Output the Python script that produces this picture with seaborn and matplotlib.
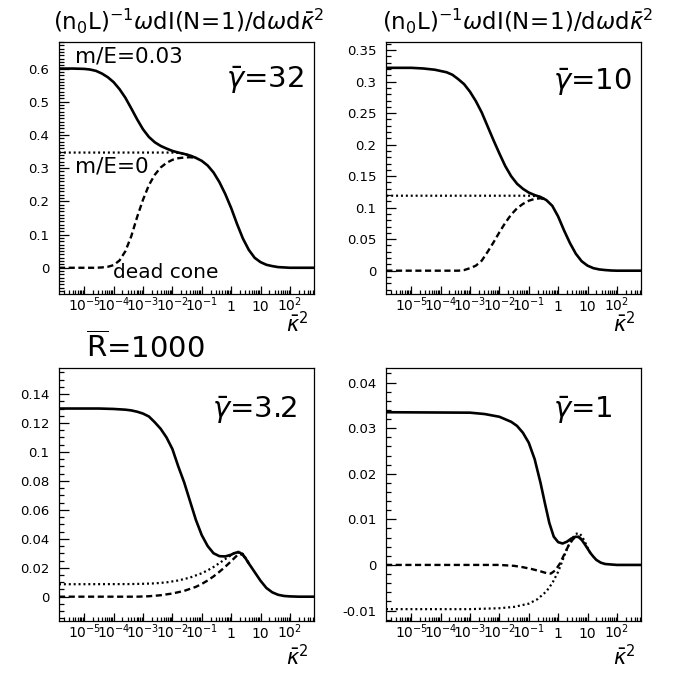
import numpy as np
import pandas as pd
import matplotlib
matplotlib.use("Agg")
import matplotlib.pyplot as plt
import matplotlib.ticker as mticker
import seaborn as sns

# ---------------- data (log10 of kappa^2, values) ----------------
# Panel gamma=32
P1_SOLID_LK = [-5.86, -5.4, -5.0, -4.8, -4.6, -4.4, -4.2, -4.0, -3.8, -3.6, -3.4, -3.2, -3.0, -2.8, -2.6, -2.4,
               -2.2, -2.0, -1.8, -1.6, -1.4, -1.2, -1.0, -0.8, -0.6, -0.4, -0.2, 0.0, 0.2, 0.4, 0.6, 0.8, 1.0,
               1.2, 1.4, 1.6, 1.8, 2.0, 2.82]
P1_SOLID_V = [0.600, 0.600, 0.599, 0.597, 0.593, 0.585, 0.574, 0.559, 0.538, 0.512, 0.480, 0.447, 0.417, 0.394,
              0.378, 0.367, 0.359, 0.352, 0.347, 0.343, 0.338, 0.331, 0.322, 0.308, 0.287, 0.258, 0.222, 0.180,
              0.132, 0.088, 0.054, 0.030, 0.017, 0.009, 0.005, 0.002, 0.001, 0.0, 0.0]
P1_DOT_LK = [-5.86, -2.0, -1.8, -1.6, -1.4, -1.2]
P1_DOT_V = [0.347, 0.347, 0.346, 0.343, 0.338, 0.331]
P1_DASH_LK = [-5.86, -4.6, -4.4, -4.2, -4.0, -3.8, -3.6, -3.4, -3.2, -3.0, -2.8, -2.6, -2.4, -2.2, -2.0, -1.8,
              -1.6, -1.4, -1.2]
P1_DASH_V = [0.0, 0.0, 0.001, 0.003, 0.008, 0.022, 0.050, 0.095, 0.153, 0.205, 0.249, 0.280, 0.302, 0.316,
             0.325, 0.330, 0.332, 0.333, 0.331]

# Panel gamma=10
P2_SOLID_LK = [-5.85, -5.0, -4.6, -4.4, -4.2, -4.0, -3.8, -3.6, -3.4, -3.2, -3.0, -2.8, -2.6, -2.4, -2.2, -2.0,
               -1.8, -1.6, -1.4, -1.2, -1.0, -0.8, -0.6, -0.4, -0.2, 0.0, 0.2, 0.4, 0.6, 0.8, 1.0, 1.2, 1.4,
               1.6, 1.8, 2.0, 2.82]
P2_SOLID_V = [0.322, 0.322, 0.321, 0.320, 0.319, 0.317, 0.315, 0.311, 0.304, 0.296, 0.284, 0.269, 0.251, 0.229,
              0.207, 0.186, 0.166, 0.150, 0.138, 0.130, 0.124, 0.120, 0.117, 0.112, 0.103, 0.086, 0.064, 0.044,
              0.027, 0.015, 0.008, 0.004, 0.002, 0.001, 0.0003, 0.0, 0.0]
P2_DOT_LK = [-5.85, -1.0, -0.8, -0.6, -0.4]
P2_DOT_V = [0.119, 0.119, 0.1185, 0.117, 0.112]
P2_DASH_LK = [-5.85, -3.4, -3.2, -3.0, -2.8, -2.6, -2.4, -2.2, -2.0, -1.8, -1.6, -1.4, -1.2, -1.0, -0.8, -0.6, -0.4]
P2_DASH_V = [0.0, 0.0, 0.001, 0.004, 0.008, 0.016, 0.030, 0.045, 0.061, 0.076, 0.089, 0.099, 0.106, 0.111,
             0.114, 0.115, 0.112]

# Panel gamma=3.2
P3_SOLID_LK = [-5.86, -4.5, -4.0, -3.6, -3.4, -3.2, -3.0, -2.8, -2.6, -2.4, -2.2, -2.0, -1.8, -1.6, -1.4, -1.2,
               -1.0, -0.8, -0.6, -0.4, -0.2, 0.0, 0.1, 0.2, 0.3, 0.4, 0.5, 0.6, 0.8, 1.0, 1.2, 1.4, 1.6, 1.8,
               2.0, 2.3, 2.82]
P3_SOLID_V = [0.130, 0.130, 0.1297, 0.1292, 0.1287, 0.1278, 0.1265, 0.1245, 0.1205, 0.1160, 0.1100, 0.1020,
              0.0900, 0.0790, 0.0660, 0.0530, 0.0425, 0.0350, 0.0300, 0.0280, 0.0278, 0.0290, 0.0300, 0.0306,
              0.0304, 0.0290, 0.0262, 0.0230, 0.0170, 0.0110, 0.0060, 0.0030, 0.0013, 0.0005, 0.0002, 0.0, 0.0]
P3_DOT_LK = [-5.86, -3.5, -3.0, -2.6, -2.2, -1.8, -1.4, -1.0, -0.8, -0.6, -0.4, -0.2, 0.0, 0.1, 0.2, 0.3, 0.4,
             0.5, 0.6]
P3_DOT_V = [0.0086, 0.0087, 0.0089, 0.0092, 0.0099, 0.0112, 0.0132, 0.0162, 0.0182, 0.0205, 0.0232, 0.0260,
            0.0287, 0.0300, 0.0310, 0.0310, 0.0295, 0.0265, 0.0232]
P3_DASH_LK = [-5.86, -3.2, -2.8, -2.4, -2.0, -1.6, -1.2, -1.0, -0.8, -0.6, -0.4, -0.2, 0.0, 0.1, 0.2, 0.3, 0.4,
              0.5, 0.6]
P3_DASH_V = [0.0, 0.0, 0.0003, 0.0010, 0.0022, 0.0040, 0.0068, 0.0088, 0.0112, 0.0140, 0.0172, 0.0207, 0.0245,
             0.0265, 0.0285, 0.0295, 0.0288, 0.0262, 0.0230]

# Panel gamma=1
P4_SOLID_LK = [-5.86, -3.0, -2.5, -2.0, -1.6, -1.4, -1.2, -1.0, -0.8, -0.6, -0.45, -0.3, -0.15, 0.0, 0.15, 0.3,
               0.45, 0.6, 0.7, 0.8, 0.9, 1.0, 1.1, 1.2, 1.3, 1.45, 1.6, 1.8, 2.0, 2.82]
P4_SOLID_V = [0.0335, 0.0334, 0.0331, 0.0325, 0.0314, 0.0305, 0.0290, 0.0268, 0.0232, 0.0180, 0.0135, 0.0092,
              0.0062, 0.0050, 0.0047, 0.0051, 0.0058, 0.0062, 0.0061, 0.0055, 0.0046, 0.0036, 0.0026, 0.0018,
              0.0011, 0.0005, 0.0002, 0.0001, 0.0, 0.0]
P4_DOT_LK = [-5.86, -3.0, -2.0, -1.5, -1.0, -0.7, -0.4, -0.2, 0.0, 0.15, 0.3, 0.45, 0.6, 0.7, 0.8, 0.9, 1.0, 1.1]
P4_DOT_V = [-0.0097, -0.0097, -0.0095, -0.0092, -0.0085, -0.0075, -0.0058, -0.0040, -0.0015, 0.0010, 0.0035,
            0.0056, 0.0068, 0.0070, 0.0064, 0.0052, 0.0038, 0.0026]
P4_DASH_LK = [-5.86, -2.0, -1.5, -1.2, -0.9, -0.6, -0.4, -0.25, -0.1, 0.05, 0.2, 0.35, 0.5, 0.6, 0.7, 0.8]
P4_DASH_V = [0.0, 0.0, -0.0002, -0.0005, -0.0009, -0.0014, -0.0018, -0.0019, -0.0012, 0.0002, 0.0022, 0.0042,
             0.0056, 0.0062, 0.0062, 0.0056]

GAMMA_LABELS = ["32", "10", "3.2", "1"]
XTICK_EXP = [-5, -4, -3, -2, -1, 0, 1, 2]
XTICK_LABELS = [r"$10^{-5}$", r"$10^{-4}$", r"$10^{-3}$", r"$10^{-2}$", r"$10^{-1}$", "1", "10", r"$10^{2}$"]
YLIMS = [(-0.079, 0.68), (-0.037, 0.363), (-0.0168, 0.158), (-0.0123, 0.0432)]
YMAJ = [0.1, 0.05, 0.02, 0.01]
YMIN = [0.01, 0.01, 0.005, 0.002]
YTICK_RANGE = [(0, 0.6), (0, 0.35), (0, 0.14), (-0.01, 0.04)]

# ---------------- style ----------------
sns.set_theme(style="ticks")
plt.rcParams.update({
    "font.family": ["DejaVu Sans"],
    "mathtext.fontset": "dejavusans",
    "text.color": "black",
    "axes.labelcolor": "black",
    "xtick.color": "black",
    "ytick.color": "black",
    "axes.edgecolor": "black",
    "xtick.direction": "in",
    "ytick.direction": "in",
    "xtick.major.size": 6, "xtick.minor.size": 3,
    "ytick.major.size": 7, "ytick.minor.size": 3.5,
    "xtick.major.width": 0.9, "xtick.minor.width": 0.9,
    "ytick.major.width": 0.9, "ytick.minor.width": 0.9,
})

W, H = 679, 675
fig = plt.figure(figsize=(W / 100, H / 100), dpi=100)
fig.patch.set_facecolor("white")


def box(l, r, t, b):
    return [l / W, 1 - b / H, (r - l) / W, (b - t) / H]


def fx(p):
    return p / W


def fy(p):
    return 1 - p / H


panels = [
    (box(59, 314, 42, 294), (P1_SOLID_LK, P1_SOLID_V), (P1_DOT_LK, P1_DOT_V), (P1_DASH_LK, P1_DASH_V)),
    (box(386, 641, 42, 294), (P2_SOLID_LK, P2_SOLID_V), (P2_DOT_LK, P2_DOT_V), (P2_DASH_LK, P2_DASH_V)),
    (box(59, 314, 368, 621), (P3_SOLID_LK, P3_SOLID_V), (P3_DOT_LK, P3_DOT_V), (P3_DASH_LK, P3_DASH_V)),
    (box(386, 641, 368, 621), (P4_SOLID_LK, P4_SOLID_V), (P4_DOT_LK, P4_DOT_V), (P4_DASH_LK, P4_DASH_V)),
]

for i, (rect, solid, dot, dash) in enumerate(panels):
    ax = fig.add_axes(rect)
    ax.set_xscale("log")
    for (lk, v), kw in [
        (dot, dict(linestyle=(0, (0.9, 1.3)), lw=1.6)),
        (dash, dict(linestyle=(0, (2.6, 1.5)), lw=1.7)),
        (solid, dict(linestyle="-", lw=1.9)),
    ]:
        df = pd.DataFrame({"k2": 10.0 ** np.array(lk), "val": v})
        sns.lineplot(data=df, x="k2", y="val", ax=ax, color="black", estimator=None, sort=False, **kw)
    ax.set_xlim(10 ** -5.86, 10 ** 2.82)
    ax.set_ylim(*YLIMS[i])
    ax.set_xlabel("")
    ax.set_ylabel("")

    ax.xaxis.set_major_locator(mticker.FixedLocator([10.0 ** e for e in XTICK_EXP]))
    ax.xaxis.set_major_formatter(mticker.FixedFormatter(XTICK_LABELS))
    ax.xaxis.set_minor_locator(mticker.LogLocator(base=10, subs=np.arange(2, 10), numticks=30))
    ax.xaxis.set_minor_formatter(mticker.NullFormatter())

    y0, y1 = YTICK_RANGE[i]
    ax.yaxis.set_major_locator(mticker.FixedLocator(np.round(np.arange(y0, y1 + 1e-9, YMAJ[i]), 4)))
    ax.yaxis.set_major_formatter(mticker.FuncFormatter(lambda v, p: "0" if abs(v) < 1e-12 else "%g" % v))
    ax.yaxis.set_minor_locator(mticker.MultipleLocator(YMIN[i]))

    ax.tick_params(axis="both", which="both", direction="in", left=True, bottom=True)
    ax.tick_params(axis="y", which="major", labelsize=9.5, pad=7)
    ax.tick_params(axis="x", which="major", labelsize=10, pad=12)
    for lbl in ax.get_xticklabels():
        lbl.set_va("baseline")
    for s in ax.spines.values():
        s.set_visible(True)
        s.set_color("black")
        s.set_linewidth(0.9)
    ax.grid(False)

# ---------------- texts ----------------
ytitle = r"$(\mathrm{n_0L})^{-1}\omega\mathrm{dI(N\!=\!1)/d}\omega\mathrm{d}\bar{\kappa}^{2}$"
fig.text(fx(53), fy(21), ytitle, ha="left", va="center", fontsize=16.5, color="black")
fig.text(fx(382), fy(21), ytitle, ha="left", va="center", fontsize=16.5, color="black")

fig.text(fx(86), fy(348), r"$\overline{\mathrm{R}}$=1000", ha="left", va="center", fontsize=21, color="black")

gam_pos = [(226, 88), (553, 90), (212, 418), (553, 418)]
for (gx, gy), g in zip(gam_pos, GAMMA_LABELS):
    fig.text(fx(gx), fy(gy), r"$\bar{\gamma}$=" + g, ha="left", va="baseline", fontsize=21, color="black")

fig.text(fx(75), fy(63), "m/E=0.03", ha="left", va="baseline", fontsize=15.5, color="black")
fig.text(fx(75), fy(172), "m/E=0", ha="left", va="baseline", fontsize=15.5, color="black")
fig.text(fx(113), fy(278), "dead cone", ha="left", va="baseline", fontsize=14.5, color="black")

for kx, ky in [(297, 324), (624, 324), (297, 657), (624, 657)]:
    fig.text(fx(kx), fy(ky), r"$\bar{\kappa}^{2}$", ha="center", va="center", fontsize=15, color="black")

fig.savefig("out.png", dpi=100, facecolor="white")
